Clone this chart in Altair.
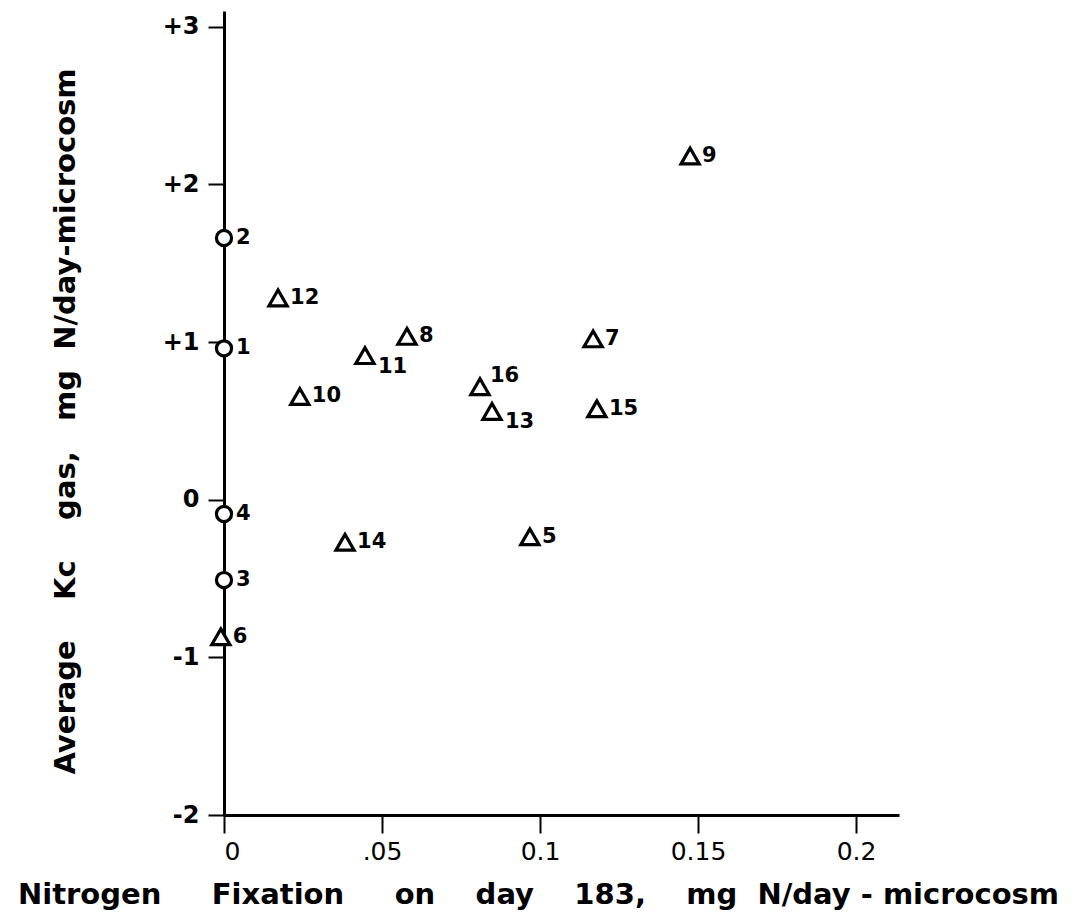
import altair as alt
import pandas as pd

# Microcosm number, N fixation on day 183, average Kc gas
labels = ["1", "2", "3", "4", "5", "6", "7", "8", "9", "10", "11", "12", "13", "14", "15", "16"]
fixation = [0.0, 0.0, 0.0, 0.0, 0.0968, -0.001, 0.1168, 0.0579, 0.1475, 0.024, 0.0446, 0.0171, 0.0848, 0.0383, 0.118, 0.081]
kc_gas = [0.96, 1.66, -0.51, -0.09, -0.235, -0.87, 1.02, 1.036, 2.18, 0.655, 0.914, 1.28, 0.56, -0.27, 0.577, 0.717]
group = ["circle", "circle", "circle", "circle", "triangle", "triangle", "triangle", "triangle",
         "triangle", "triangle", "triangle", "triangle", "triangle", "triangle", "triangle", "triangle"]

x_ticks = [0, 0.05, 0.1, 0.15, 0.2]
x_tick_labels = ["0", ".05", "0.1", "0.15", "0.2"]
y_ticks = [-2, -1, 0, 1, 2, 3]
y_tick_labels = ["-2", "-1", "0", "+1", "+2", "+3"]

sub_labels = ["11", "13"]
sup_labels = ["16"]

df = pd.DataFrame({"label": labels, "fix": fixation, "kc": kc_gas, "group": group})

NB = "\u00a0"
x_title = ("Nitrogen" + NB * 5 + "Fixation" + NB * 5 + "on" + NB * 4 + "day" + NB * 4 + "183," + NB * 4
           + "mg" + NB * 2 + "N/day" + NB + "-" + NB + "microcosm")
y_title = "Average" + NB * 4 + "Kc" + NB * 4 + "gas," + NB * 3 + "mg" + NB * 2 + "N/day-microcosm"

FONT = "DejaVu Sans"

x_enc = alt.X(
    "fix:Q",
    scale=alt.Scale(domain=[0, 0.2136], nice=False, zero=False),
    axis=alt.Axis(
        values=x_ticks,
        labelExpr="[" + ",".join("'" + s + "'" for s in x_tick_labels) + "][round(datum.value/0.05)]",
        title=x_title,
        grid=False,
        domainColor="black", domainWidth=3,
        tickColor="black", tickWidth=2, tickSize=18,
        labelFont=FONT, labelFontSize=25, labelColor="black", labelPadding=6,
        titleFont=FONT, titleFontSize=29, titleFontWeight="bold", titleColor="black",
        titleX=314, titleY=88, titleAnchor="middle", titleAlign="center", titleBaseline="alphabetic",
    ),
)
y_enc = alt.Y(
    "kc:Q",
    scale=alt.Scale(domain=[-2, 3.1], nice=False, zero=False),
    axis=alt.Axis(
        values=y_ticks,
        labelExpr="[" + ",".join("'" + s + "'" for s in y_tick_labels) + "][round(datum.value)+2]",
        title=y_title,
        grid=False,
        domainColor="black", domainWidth=3,
        tickColor="black", tickWidth=2, tickSize=16,
        labelFont=FONT, labelFontSize=24, labelFontWeight="bold", labelColor="black", labelPadding=9,
        titleFont=FONT, titleFontSize=29, titleFontWeight="bold", titleColor="black",
        titleX=-159, titleY=410, titleAngle=270, titleAlign="center", titleBaseline="middle",
    ),
)

base = alt.Chart(df)

points = base.mark_point(filled=False, stroke="black", fill="white", fillOpacity=1, strokeWidth=3.2, opacity=1).encode(
    x=x_enc,
    y=y_enc,
    shape=alt.Shape("group:N", scale=alt.Scale(domain=["circle", "triangle"], range=["circle", "triangle-up"]), legend=None),
    size=alt.Size("group:N", scale=alt.Scale(domain=["circle", "triangle"], range=[230, 330]), legend=None),
)

text_kw = dict(font=FONT, fontSize=21, fontWeight="bold", color="black", align="left", baseline="middle")

normal = base.mark_text(dx=12, dy=0, **text_kw).encode(x="fix:Q", y="kc:Q", text="label:N").transform_filter(
    ~alt.FieldOneOfPredicate(field="label", oneOf=sub_labels + sup_labels)
)
sub = base.mark_text(dx=13, dy=11, **text_kw).encode(x="fix:Q", y="kc:Q", text="label:N").transform_filter(
    alt.FieldOneOfPredicate(field="label", oneOf=sub_labels)
)
sup = base.mark_text(dx=10, dy=-11, **text_kw).encode(x="fix:Q", y="kc:Q", text="label:N").transform_filter(
    alt.FieldOneOfPredicate(field="label", oneOf=sup_labels)
)

chart = alt.layer(points, normal, sub, sup).properties(
    width=675,
    height=804,
    autosize=alt.AutoSizeParams(type="none"),
    padding={"left": 216, "top": 3, "right": 176, "bottom": 95},
    background="white",
).configure_view(stroke=None)

chart.save("out.html", embed_options={"renderer": "svg", "actions": False})
